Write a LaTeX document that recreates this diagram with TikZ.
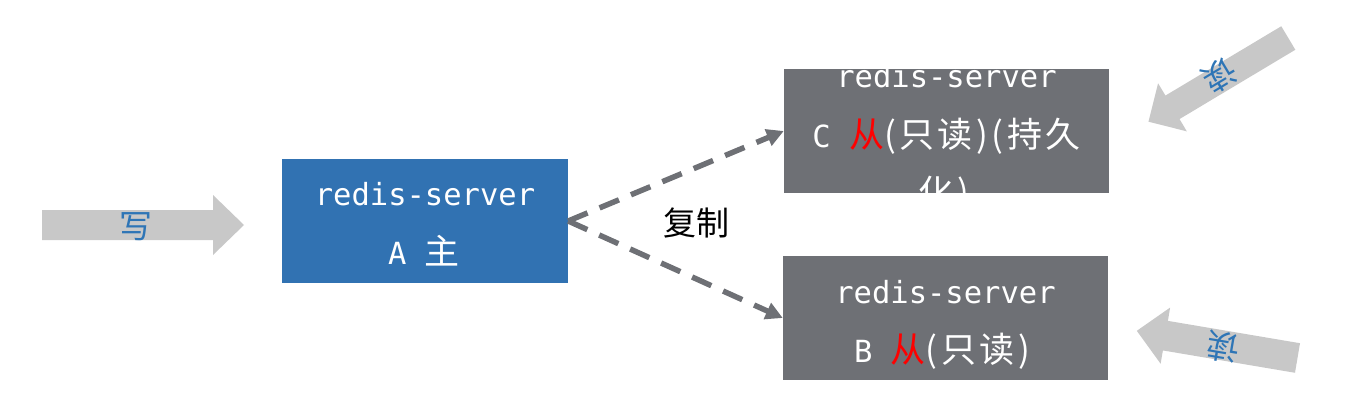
\documentclass[tikz,border=0pt]{standalone}
\usepackage{fontspec}
\usetikzlibrary{arrows.meta}
\newfontfamily\monof{DejaVu Sans Mono}
\newfontfamily\cjkf{Noto Sans CJK SC}[LetterSpace=10]
\newfontfamily\cjkp{Noto Sans CJK SC}
\definecolor{boxblue}{RGB}{49,114,178}
\definecolor{boxgray}{RGB}{110,112,117}
\definecolor{arrgray}{RGB}{200,200,200}
\definecolor{txtblue}{RGB}{46,117,182}
\begin{document}
\begin{tikzpicture}[x=1pt,y=-1pt,
  srvbox/.style={draw=none, inner sep=0pt, minimum height=124pt},
  srvline/.style={inner sep=0pt, anchor=base, text=white,
    font=\fontsize{30.5}{36}\selectfont\monof},
  cjkline/.style={inner sep=0pt, anchor=base, text=white,
    font=\fontsize{35}{40}\selectfont\cjkf},
  repl/.style={draw=boxgray, line width=5.5pt, dash pattern=on 21pt off 13pt,
    -{Triangle[length=17pt,width=17pt]}},
  blockarrow/.style={fill=arrgray, draw=none},
  arrowtext/.style={inner sep=0pt, text=txtblue,
    font=\fontsize{33}{38}\selectfont\cjkp},
  repllabel/.style={inner sep=0pt, text=black,
    font=\fontsize{33}{38}\selectfont\cjkp}]
\useasboundingbox (0,0) rectangle (1345,412);

% server boxes
\node[srvbox, fill=boxblue, minimum width=286pt] (A) at (425,221) {};
\node[srvbox, fill=boxgray, minimum width=325pt] (C) at (946.5,131) {};
\node[srvbox, fill=boxgray, minimum width=325pt] (B) at (945.5,318) {};

% texts in A
\node[srvline] (A1) at (425,205) {redis-server};
\node[srvline] (A2) at (424,264) {A {\cjkp\fontsize{35}{40}\selectfont 主}};

% texts in C (overflowing lines are white on white)
\node[srvline] (C1) at (946.5,88) {redis-server};
\node[srvline] (C2) at (946.5,147) {C {\cjkf\fontsize{35}{40}\selectfont\textcolor{red}{从}(只读)(持久}};
\node[cjkline] (C3) at (944,205) {化)};

% texts in B
\node[srvline] (B1) at (945.5,303) {redis-server};
\node[srvline] (B2) at (942,362) {B {\cjkf\fontsize{35}{40}\selectfont\textcolor{red}{从}(只读)}};

% replication connectors
\draw[repl] (A.east) -- (C.west);
\draw[repl] (A.east) -- (B.west);
\node[repllabel] (lbl) at (696,223) {复制};

% write arrow
\begin{scope}[shift={(42,225)}]
  \fill[blockarrow] (0,-15) -- (171,-15) -- (171,-30) -- (202,0) -- (171,30) -- (171,15) -- (0,15) -- cycle;
\end{scope}
\node[arrowtext] (wtxt) at (136,227) {写};

% read arrow to C
\begin{scope}[shift={(1288.3,38)}, rotate=210.9]
  \fill[blockarrow] (0,-13.7) -- (135,-13.7) -- (135,-28) -- (163,0) -- (135,28) -- (135,13.7) -- (0,13.7) -- cycle;
\end{scope}
\node[arrowtext, rotate=210.9] (rtxtC) at (1220,76) {读};

% read arrow to B
\begin{scope}[shift={(1297.5,358)}, rotate=170.4]
  \fill[blockarrow] (0,-15) -- (134,-15) -- (134,-28.5) -- (163,0) -- (134,28.5) -- (134,15) -- (0,15) -- cycle;
\end{scope}
\node[arrowtext, rotate=170.4] (rtxtB) at (1223,347) {读};
\end{tikzpicture}
\end{document}
